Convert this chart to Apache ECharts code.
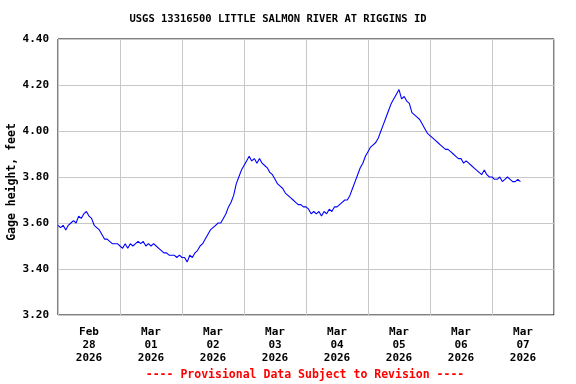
<!DOCTYPE html>
<html>
<head>
<meta charset="utf-8">
<script src="https://cdn.jsdelivr.net/npm/echarts@6/dist/echarts.min.js"></script>
<style>
html,body{margin:0;padding:0;background:#fff;}
#chart{width:576px;height:384px;}
</style>
</head>
<body>
<div id="chart"></div>
<script>
// Title and footer
const titleText = 'USGS 13316500 LITTLE SALMON RIVER AT RIGGINS ID';
const footerText = '---- Provisional Data Subject to Revision ----';
const yAxisName = 'Gage height, feet';

// Day labels (one per day band, Feb 28 00:00 to Mar 08 00:00)
const dayLabels = ['Feb\n28\n2026','Mar\n01\n2026','Mar\n02\n2026','Mar\n03\n2026','Mar\n04\n2026','Mar\n05\n2026','Mar\n06\n2026','Mar\n07\n2026'];

// Y ticks
const yMin = 3.2, yMax = 4.4, yStep = 0.2;
// X range in hours from Feb 28 00:00
const xMinHours = 0, xMaxHours = 192, xStepHours = 24;

// Hourly gage height (feet), starting Feb 28 2026 00:00
const gageHeight = [
  3.59,3.58,3.59,3.57,3.59,3.60,3.61,3.60,3.63,3.62,3.64,3.65,
  3.63,3.62,3.59,3.58,3.57,3.55,3.53,3.53,3.52,3.51,3.51,3.51,
  3.50,3.49,3.51,3.49,3.51,3.50,3.51,3.52,3.51,3.52,3.50,3.51,
  3.50,3.51,3.50,3.49,3.48,3.47,3.47,3.46,3.46,3.46,3.45,3.46,
  3.45,3.45,3.43,3.46,3.45,3.47,3.48,3.50,3.51,3.53,3.55,3.57,
  3.58,3.59,3.60,3.60,3.62,3.64,3.67,3.69,3.72,3.77,3.80,3.83,
  3.85,3.87,3.89,3.87,3.88,3.86,3.88,3.86,3.85,3.84,3.82,3.81,
  3.79,3.77,3.76,3.75,3.73,3.72,3.71,3.70,3.69,3.68,3.68,3.67,
  3.67,3.66,3.64,3.65,3.64,3.65,3.63,3.65,3.64,3.66,3.65,3.67,
  3.67,3.68,3.69,3.70,3.70,3.72,3.75,3.78,3.81,3.84,3.86,3.89,
  3.91,3.93,3.94,3.95,3.97,4.00,4.03,4.06,4.09,4.12,4.14,4.16,
  4.18,4.14,4.15,4.13,4.12,4.08,4.07,4.06,4.05,4.03,4.01,3.99,
  3.98,3.97,3.96,3.95,3.94,3.93,3.92,3.92,3.91,3.90,3.89,3.88,
  3.88,3.86,3.87,3.86,3.85,3.84,3.83,3.82,3.81,3.83,3.81,3.80,
  3.80,3.79,3.79,3.80,3.78,3.79,3.80,3.79,3.78,3.78,3.79,3.78
];

const seriesData = gageHeight.map((v, i) => [i, v]);
const FONT = '"DejaVu Sans Mono", "Liberation Mono", monospace';

const chart = echarts.init(document.getElementById('chart'), null, {renderer: 'canvas'});
chart.setOption({
  animation: false,
  backgroundColor: '#ffffff',
  grid: {left: 58, top: 39, width: 496, height: 276, containLabel: false, outerBoundsMode: 'none',
         show: true, borderColor: '#000', borderWidth: 1, backgroundColor: 'transparent'},
  xAxis: [
    {
      type: 'value', position: 'top', min: xMinHours, max: xMaxHours, interval: xStepHours,
      axisLine: {show: false}, axisTick: {show: false}, axisLabel: {show: false},
      splitLine: {show: true, lineStyle: {color: '#c8c8c8', width: 1}}
    },
    {
      type: 'category', position: 'bottom', data: dayLabels, boundaryGap: true,
      axisLine: {show: false}, axisTick: {show: false}, splitLine: {show: false},
      axisLabel: {interval: 0, margin: 11, color: '#000', fontFamily: FONT, fontWeight: 'bold', fontSize: 11, lineHeight: 13, align: 'center'}
    }
  ],
  yAxis: {
    type: 'value', min: yMin, max: yMax, interval: yStep,
    axisLine: {show: false}, axisTick: {show: false},
    axisLabel: {margin: 9, color: '#000', fontFamily: FONT, fontWeight: 'bold', fontSize: 11, formatter: v => v.toFixed(2)},
    splitLine: {show: true, lineStyle: {color: '#c8c8c8', width: 1}}
  },
  series: [{
    type: 'line', xAxisIndex: 0, yAxisIndex: 0, data: seriesData,
    showSymbol: false, symbol: 'none', lineStyle: {color: '#0000ff', width: 1.1}, z: 5
  }],
  graphic: [
    {type: 'text', x: 278, y: 19, style: {text: titleText, fill: '#000', font: 'bold 10.5px ' + FONT, textAlign: 'center', textVerticalAlign: 'middle'}},
    {type: 'text', x: 12, y: 182, rotation: Math.PI / 2, style: {text: yAxisName, fill: '#000', font: 'bold 11.5px ' + FONT, textAlign: 'center', textVerticalAlign: 'middle'}},
    {type: 'text', x: 305, y: 375, style: {text: footerText, fill: '#ff0000', font: 'bold 11.5px ' + FONT, textAlign: 'center', textVerticalAlign: 'middle'}}
  ]
});
</script>
</body>
</html>
